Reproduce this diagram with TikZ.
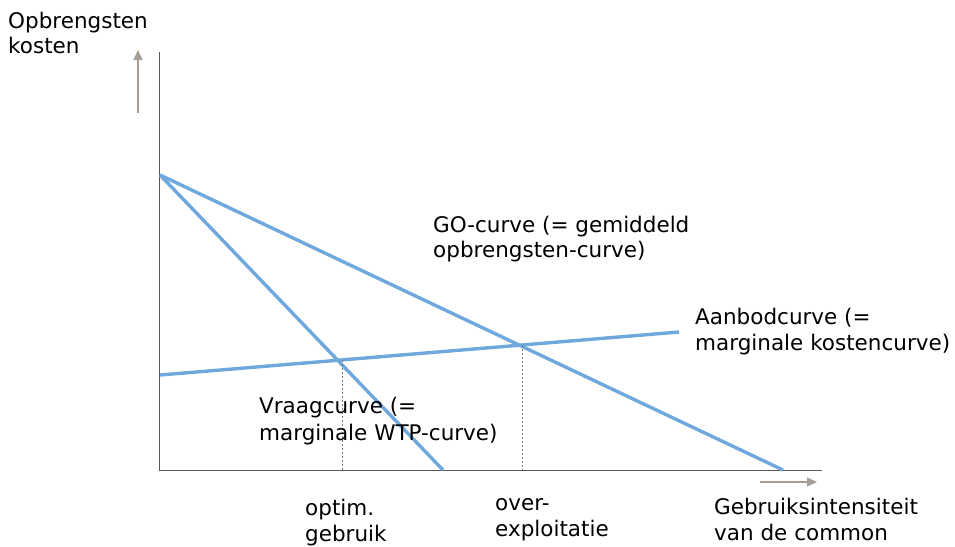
\documentclass[tikz,border=0pt]{standalone}
\usepackage{fontspec}
\setmainfont{DejaVu Sans}
\usepackage{xcolor}
\usetikzlibrary{calc}
\usetikzlibrary{arrows, arrows.meta}

\definecolor{curveblue}{RGB}{111,168,220}
\definecolor{axisgray}{RGB}{89,89,89}
\definecolor{hintgray}{RGB}{166,158,150}

\begin{document}
\begin{tikzpicture}[x=1pt, y=-1pt,
	curve/.style={line width=3.4pt, curveblue},
	axis/.style={line width=1pt, axisgray},
	hint/.style={line width=1.3pt, hintgray, -{Triangle[length=10pt, width=9pt]}},
	guide/.style={line width=0.8pt, axisgray!80, dash pattern=on 2pt off 2pt},
	lbl/.style={anchor=base west, inner sep=0pt, align=left,
		font=\fontsize{21.5}{#1}\selectfont},
	lbl/.default=25.5]

\useasboundingbox (0,0) rectangle (955,546);

% assen
\coordinate (yTop) at (159,52);
\coordinate (orig) at (159,470);
\coordinate (xEnd) at (822,470);
\draw [axis] (yTop) -- (orig) -- (xEnd);

\coordinate (upFoot) at (138,113);
\coordinate (upTip) at (138,50);
\draw [hint] (upFoot) -- (upTip);
\coordinate (rightFoot) at (760,482);
\coordinate (rightTip) at (817,482);
\draw [hint] (rightFoot) -- (rightTip);

% curves
\coordinate (top) at (160,175);
\coordinate (goEnd) at (783,470);
\coordinate (vrEnd) at (443,470);
\coordinate (abStart) at (160,375);
\coordinate (abEnd) at (679,332);

\draw [curve] (top) -- (goEnd);
\draw [curve] (top) -- (vrEnd);
\draw [curve] (abStart) -- (abEnd);

% snijpunten
\coordinate (optim) at (342,360);
\coordinate (optimFoot) at (342,470);
\coordinate (over) at (522,345);
\coordinate (overFoot) at (522,470);
\draw [guide] (optim) -- (optimFoot);
\draw [guide] (over) -- (overFoot);

% labels (anker = basislijn van de laatste regel)
\node [lbl=25] (yLabel) at (8,53) {Opbrengsten\\kosten};
\node [lbl=25] (goLabel) at (433,257) {GO-curve (= gemiddeld\\opbrengsten-curve)};
\node [lbl=26] (abLabel) at (695,350) {Aanbodcurve (=\\marginale kostencurve)};
\node [lbl=27] (vrLabel) at (259,440) {Vraagcurve (=\\marginale WTP-curve)};
\node [lbl] (optimLabel) at (305,541) {optim.\\gebruik};
\node [lbl] (overLabel) at (495,536) {over-\\exploitatie};
\node [lbl] (xLabel) at (714,540) {Gebruiksintensiteit\\van de common};

\end{tikzpicture}
\end{document}
